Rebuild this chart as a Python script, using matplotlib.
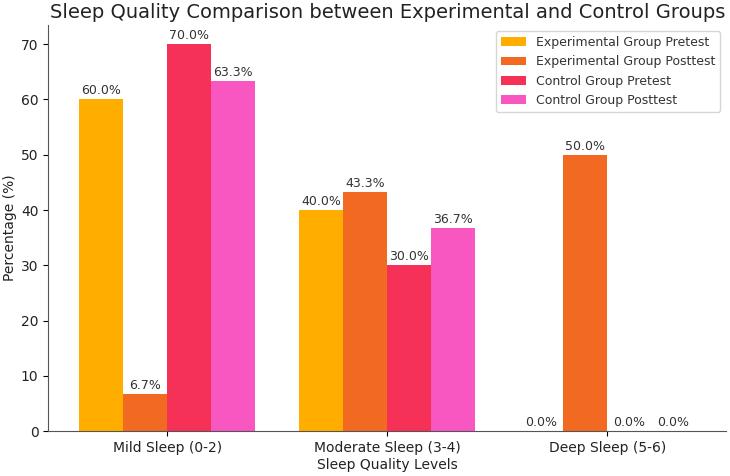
import matplotlib
matplotlib.use("Agg")
from matplotlib import pyplot as plt
import numpy as np

categories = ["Mild Sleep (0-2)", "Moderate Sleep (3-4)", "Deep Sleep (5-6)"]
series_names = ["Experimental Group Pretest", "Experimental Group Posttest",
                "Control Group Pretest", "Control Group Posttest"]
exp_pre = [60.0, 40.0, 0.0]
exp_post = [6.7, 43.3, 50.0]
ctrl_pre = [70.0, 30.0, 0.0]
ctrl_post = [63.3, 36.7, 0.0]
colors = ["#FFAE00", "#F26A22", "#F53158", "#F857C1"]

fig = plt.figure(figsize=(7.3, 4.76), dpi=100)
ax = fig.add_subplot(111)
x = np.arange(len(categories))
w = 0.2
for i, vals in enumerate([exp_pre, exp_post, ctrl_pre, ctrl_post]):
    bars = ax.bar(x + (i - 1.5) * w, vals, w, color=colors[i], label=series_names[i])
    for b, v in zip(bars, vals):
        ax.text(b.get_x() + b.get_width() / 2, v + 0.4, "%.1f%%" % v,
                ha="center", va="bottom", fontsize=9, color="#333333")

ax.set_xticks(x)
ax.set_xticklabels(categories, fontsize=10, color="#222222")
ax.tick_params(axis="y", labelsize=10, labelcolor="#222222")
ax.set_xlabel("Sleep Quality Levels", fontsize=10, color="#222222", labelpad=2)
ax.set_ylabel("Percentage (%)", fontsize=10, color="#222222", labelpad=3)
ax.set_title("Sleep Quality Comparison between Experimental and Control Groups",
             fontsize=14, color="#222222", pad=5)
ax.spines["top"].set_visible(False)
ax.spines["right"].set_visible(False)
ax.spines["left"].set_color("#555555")
ax.spines["bottom"].set_color("#555555")
leg = ax.legend(loc="upper right", fontsize=9)
for t in leg.get_texts():
    t.set_color("#333333")
fig.subplots_adjust(left=0.066, right=0.995, top=0.948, bottom=0.094)
fig.savefig("out.png", dpi=100)
